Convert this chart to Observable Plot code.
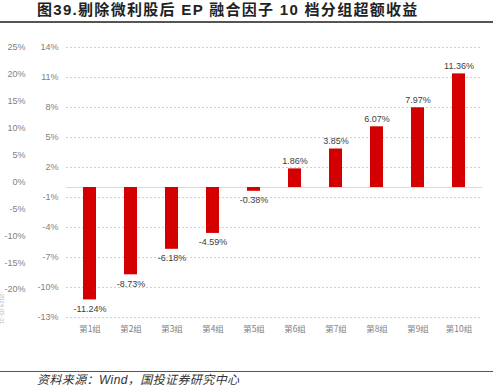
<!DOCTYPE html>
<html>
<head>
<meta charset="utf-8">
<script src="https://cdn.jsdelivr.net/npm/d3@7"></script>
<script src="https://cdn.jsdelivr.net/npm/@observablehq/plot@0.6"></script>
<style>
  html, body { margin: 0; padding: 0; background: #fff; }
  body { width: 498px; height: 390px; position: relative; overflow: hidden;
         font-family: "Liberation Sans", Arial, "Noto Sans CJK SC", sans-serif; }
  #title { position: absolute; left: 0; top: 0; width: 493px; height: 21px;
           border-bottom: 2px solid #555; }
  #title span { position: absolute; left: 37px; top: 1px; font-size: 15px; font-weight: bold;
                color: #222; white-space: nowrap; letter-spacing: 1.3px; line-height: 18px; }
  #chart { position: absolute; left: 0; top: 30px; }
  #foot { position: absolute; left: 0; top: 371px; width: 493px; border-top: 1.5px solid #555; }
  #foot span { position: absolute; left: 37px; top: 1px; font-size: 12px; font-style: italic;
               color: #333; white-space: nowrap; line-height: 15px; letter-spacing: 0.4px; }
  #stamp { position: absolute; left: -14px; top: 305px; transform: rotate(90deg);
           font-size: 6px; color: #bbb; white-space: nowrap; }
</style>
</head>
<body>
<div id="title"><span>图39.剔除微利股后 EP 融合因子 10 档分组超额收益</span></div>
<div id="chart"></div>
<div id="stamp">-2024-05-31</div>
<div id="foot"><span>资料来源：Wind，国投证券研究中心</span></div>
<script>
const groups = ["第1组","第2组","第3组","第4组","第5组","第6组","第7组","第8组","第9组","第10组"];
const values = [-11.24, -8.73, -6.18, -4.59, -0.38, 1.86, 3.85, 6.07, 7.97, 11.36];
const innerTicks = [14, 11, 8, 5, 2, -1, -4, -7, -10, -13];
const outerTicks = [25, 20, 15, 10, 5, 0, -5, -10, -15, -20];

const data = groups.map((g, i) => ({group: g, value: values[i]}));
// outer (secondary) axis: 25% aligned with 14%, -20% aligned near -10.2%
const outerToInner = v => 14 + (v - 25) * (24.2 / 45);
const fmt = d => d.value.toFixed(2) + "%";

const chart = Plot.plot({
  width: 498,
  height: 330,
  marginTop: 17,
  marginBottom: 43,
  marginLeft: 66,
  marginRight: 16,
  style: {fontFamily: "'Liberation Sans', Arial, sans-serif", fontSize: "9px", color: "#7f7f7f", background: "#fff"},
  x: {domain: groups, paddingInner: 0.69, paddingOuter: 0.345, label: null},
  y: {domain: [-13, 14], label: null},
  marks: [
    Plot.gridY(innerTicks, {stroke: "#d0d0d0", strokeOpacity: 1, strokeDasharray: "2,2"}),
    Plot.ruleY([0], {stroke: "#d9d9d9", strokeWidth: 1}),
    Plot.axisY(innerTicks, {tickSize: 0, tickPadding: 8, tickFormat: d => d + "%", fill: "#7f7f7f", fontSize: 9, label: null}),
    Plot.text(outerTicks, {y: d => outerToInner(d), text: d => d + "%", frameAnchor: "left", dx: -41, textAnchor: "end", fill: "#7f7f7f", fontSize: 9}),
    Plot.axisX({tickSize: 0, tickPadding: 8, fill: "#808080", fontSize: 8.5, label: null,
                fontFamily: "'Noto Sans CJK SC', sans-serif"}),
    Plot.barY(data, {x: "group", y: "value", fill: "#d40000"}),
    Plot.text(data.filter(d => d.value >= 0), {x: "group", y: "value", text: fmt, dy: -8, fill: "#404040", fontSize: 9}),
    Plot.text(data.filter(d => d.value < 0), {x: "group", y: "value", text: fmt, dy: 9, fill: "#404040", fontSize: 9})
  ]
});
document.getElementById("chart").appendChild(chart);
</script>
</body>
</html>
